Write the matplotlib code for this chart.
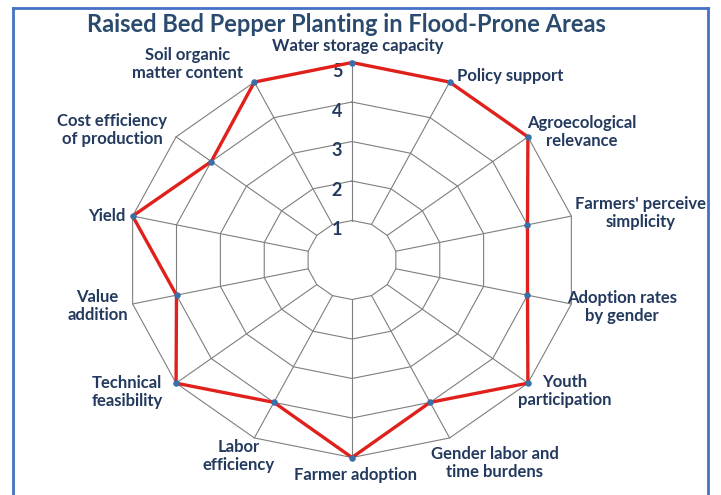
import numpy as np
import matplotlib
matplotlib.use('Agg')
import matplotlib.pyplot as plt

# 데이터
categories = ['Water storage capacity', 'Policy support', 'Agroecological\nrelevance',
              "Farmers' perceive\nsimplicity", 'Adoption rates\nby gender', 'Youth\nparticipation',
              'Gender labor and\ntime burdens', 'Farmer adoption', 'Labor\nefficiency',
              'Technical\nfeasibility', 'Value\naddition', 'Yield', 'Cost efficiency\nof production',
              'Soil organic\nmatter content']
scores = [5, 5, 5, 4, 4, 5, 4, 5, 4, 5, 4, 5, 4, 5]
levels = [1, 2, 3, 4, 5]

# label offsets from the outer vertex (pixels)
label_offsets = [(6, 17), (61, 6), (54, 5), (69, 3), (51, -3), (37, -8), (45, -25), (4, -17),
                 (-16, -18), (-49, -9), (-35, -2), (-26, 0), (-64, 7), (-67, 18)]

title_color = '#2A4A6E'
text_color = '#233A5E'
grid_color = '#7F7F7F'

matplotlib.rcParams['font.family'] = ['Lato', 'DejaVu Sans']

n = len(categories)
ang = np.arange(n) * 2 * np.pi / n
ux, uy = np.sin(ang), np.cos(ang)

fig = plt.figure(figsize=(7.21, 4.95), dpi=100)
fig.set_facecolor('white')
ax = fig.add_axes([13/721, 0, 695/721, 487/495])
ax.set_xlim(-7.533, 7.911)
ax.set_ylim(-5.949, 6.380)
ax.set_xticks([])
ax.set_yticks([])
for s in ['left', 'top', 'right']:
    ax.spines[s].set_color('#4472C4')
    ax.spines[s].set_linewidth(2)
ax.spines['bottom'].set_visible(False)

# 그리드: 다각형 링 + 방사선
for lv in levels:
    ax.plot(np.append(ux, ux[0]) * lv, np.append(uy, uy[0]) * lv, color=grid_color, lw=0.8, zorder=1)
for i in range(n):
    ax.plot([ux[i] * levels[0], ux[i] * levels[-1]], [uy[i] * levels[0], uy[i] * levels[-1]],
            color=grid_color, lw=0.8, zorder=1)

# 눈금 숫자
for lv in levels:
    ax.annotate(str(lv), (0, lv), xytext=(-15, -9), textcoords='offset pixels',
                ha='center', va='center', fontsize=13, fontweight='bold', color=text_color)

# 데이터 선
v = np.array(scores, dtype=float)
xs, ys = ux * v, uy * v
ax.plot(np.append(xs, xs[0]), np.append(ys, ys[0]), color='#E0201B', lw=2.4, zorder=3)
ax.scatter(xs, ys, s=22, color='#3A6FA8', zorder=4, linewidths=0)

# 카테고리 라벨
top = levels[-1]
for i, lab in enumerate(categories):
    ax.annotate(lab, (ux[i] * top, uy[i] * top), xytext=label_offsets[i], textcoords='offset pixels',
                ha='center', va='center', multialignment='center', fontsize=12, fontweight='bold',
                color=text_color, linespacing=1.2, annotation_clip=False, clip_on=True)

fig.text(346/721, 1 - 25/495, 'Raised Bed Pepper Planting in Flood-Prone Areas',
         ha='center', va='center', fontsize=17, fontweight='bold', color=title_color)

fig.savefig('out.png', dpi=100)
